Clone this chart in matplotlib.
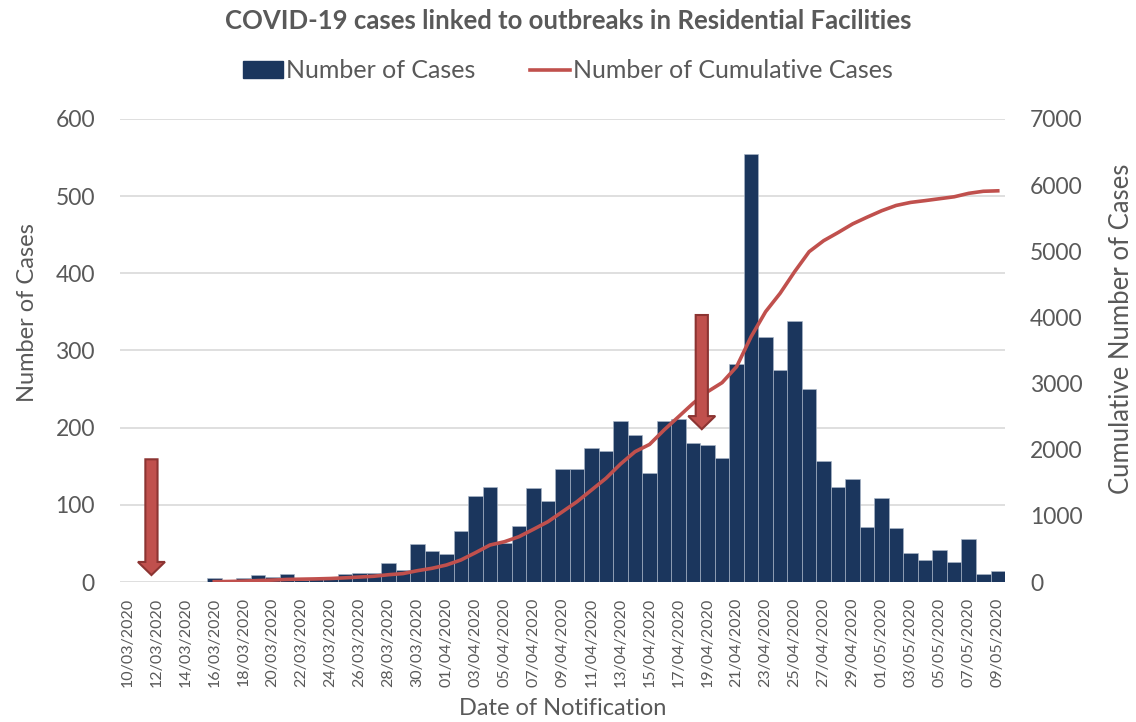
import matplotlib
matplotlib.use("Agg")
import matplotlib.pyplot as plt
from matplotlib.patches import Patch, FancyArrow
from matplotlib.lines import Line2D
import numpy as np
import pandas as pd

plt.rcParams['font.family'] = ['Lato', 'DejaVu Sans']

# daily notifications, 10/03/2020 .. 09/05/2020
dates = pd.date_range("2020-03-10", "2020-05-09", freq="D")
cases = [0, 0, 0, 0, 0, 0, 5, 3, 5, 9,
         7, 10, 3, 4, 5, 10, 12, 12, 24, 16,
         49, 40, 36, 66, 111, 123, 50, 73, 122, 105,
         146, 147, 174, 170, 209, 190, 141, 208, 211, 180,
         177, 161, 283, 554, 318, 275, 338, 250, 157, 123,
         134, 71, 109, 70, 37, 29, 41, 26, 56, 11,
         14]
# cumulative line starts on 16/03/2020
cum_start = 6
cumulative = [5, 8, 13, 22, 29, 39, 43, 47, 53, 63,
              75, 87, 110, 127, 171, 207, 257, 333, 443, 559,
              609, 685, 797, 912, 1063, 1214, 1391, 1568, 1784, 1970,
              2080, 2298, 2499, 2701, 2877, 3014, 3255, 3709, 4087, 4365,
              4692, 4994, 5160, 5284, 5414, 5516, 5613, 5693, 5739, 5766,
              5795, 5824, 5876, 5907, 5914]
date_labels = [d.strftime("%d/%m/%Y") for d in dates]

# arrows: (day index, top, tip) in cases
arrows = [(1.67, 159, 9), (39.6, 346, 198)]

navy = "#1B365D"
red = "#C0504D"
grey = "#595959"

fig = plt.figure(figsize=(11.36, 7.22), dpi=100)
ax = fig.add_axes([0.1056, 0.1939, 0.7791, 0.6413])
ax2 = ax.twinx()

x = np.arange(len(cases))
ax.bar(x, cases, width=1.0, color=navy, edgecolor="#a9b6c8", linewidth=0.45, zorder=2)
ax2.plot(x[cum_start:], cumulative, color=red, linewidth=2.6, zorder=3)

ax.set_xlim(-0.5, len(cases) - 0.5)
ax.set_ylim(0, 600)
ax2.set_ylim(0, 7000)
ax.set_yticks(range(0, 601, 100))
ax2.set_yticks(range(0, 7001, 1000))
ax.yaxis.grid(True, color="#d9d9d9", linewidth=1.2, zorder=0)
ax.set_axisbelow(True)

ax.set_xticks(x[::2])
ax.set_xticklabels(date_labels[::2], rotation=90, fontsize=11.5, color=grey)
ax.tick_params(axis="x", length=0, pad=11)
ax.tick_params(axis="y", length=0, pad=18, labelsize=16.5, labelcolor=grey)
ax2.tick_params(axis="y", length=0, pad=18, labelsize=16.5, labelcolor=grey)

for a in (ax, ax2):
    for s in a.spines.values():
        s.set_visible(False)
ax2.patch.set_visible(False)

ax.set_ylabel("Number of Cases", fontsize=17, color=grey)
ax.yaxis.set_label_coords(-0.093, 0.582)
ax2.set_ylabel("Cumulative Number of Cases", fontsize=18.5, color=grey)
ax2.yaxis.set_label_coords(1.117, 0.546)
ax.set_xlabel("Date of Notification", fontsize=17, color=grey, labelpad=8)

fig.suptitle("COVID-19 cases linked to outbreaks in Residential Facilities",
             fontsize=18.5, fontweight="bold", color=grey, y=0.988)

handles = [Patch(facecolor=navy, edgecolor=navy),
           Line2D([0], [0], color=red, linewidth=2.6)]
fig.legend(handles, ["Number of Cases", "Number of Cumulative Cases"],
           loc="center", bbox_to_anchor=(0.5, 0.902), ncol=2, frameon=False,
           fontsize=18, labelcolor=grey, handlelength=1.6, handletextpad=0.1,
           columnspacing=2.2)

# marker arrows, drawn on the right axis so they sit above the line
k = 7000 / 600
for day, top, tip in arrows:
    ax2.add_patch(FancyArrow(day, top * k, 0, (tip - top) * k,
                             width=0.84, head_width=1.86, head_length=17 * k,
                             length_includes_head=True, facecolor=red,
                             edgecolor="#8c3432", linewidth=1.5, zorder=5))

fig.savefig("out.png", dpi=100)
